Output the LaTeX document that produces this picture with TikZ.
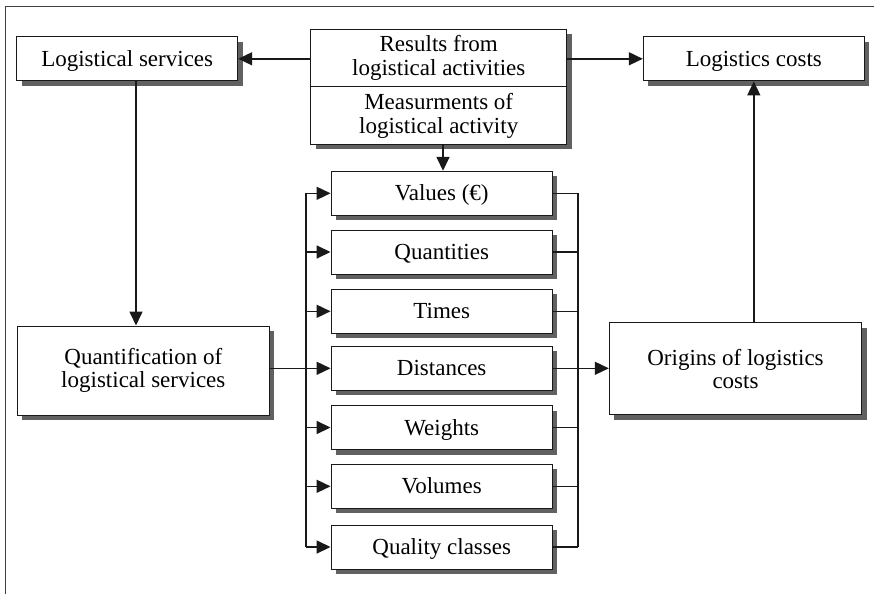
\documentclass[tikz,border=0pt]{standalone}
\usepackage{fontspec}
\setmainfont{Liberation Serif}
\usetikzlibrary{arrows.meta,shadows}
\begin{document}
\begin{tikzpicture}[x=1pt,y=-1pt,
  box/.style={draw=black!90, line width=1pt, fill=white, align=center, inner sep=0pt,
    font=\fontsize{23}{23.5}\selectfont,
    drop shadow={opacity=1, fill=black!62, shadow xshift=5pt, shadow yshift=-5pt}},
  onebox/.style={box, text height=15.2pt, text depth=0pt},
  lbl/.style={align=center, inner sep=0pt, font=\fontsize{23}{23.5}\selectfont},
  conn/.style={line width=1.6pt, draw=black!90},
  arr/.style={conn, -{Triangle[length=14pt,width=13pt]}},
  frame/.style={line width=1.2pt, draw=black!75}
]
\useasboundingbox (0,0) rectangle (874,594);
% frame
\coordinate (fa) at (5.7,594);
\coordinate (fb) at (5.7,6.7);
\coordinate (fc) at (874,6.7);
\draw[frame] (fa) -- (fb) -- (fc);

% top row
\node[onebox, minimum width=221pt, minimum height=44.3pt] (logsvc) at (127.2,58.8) {Logistical services};
\node[onebox, minimum width=221pt, minimum height=44.3pt] (logcost) at (753.8,58.8) {Logistics costs};
\node[box, minimum width=256pt, minimum height=114.7pt] (res) at (438.7,86.7) {};
\node[lbl] (res1) at (438.7,58) {Results from\\logistical activities};
\node[lbl] (res2) at (438.7,116) {Measurments of\\logistical activity};
\draw[line width=1pt, draw=black!90] (res.west |- 0,86.7) -- (res.east |- 0,86.7);

% measures column
\foreach \n/\t/\y in {val/{Values (€)}/193.3, qua/Quantities/252, tim/Times/311.3,
    dis/Distances/368.3, wei/Weights/427.5, vol/Volumes/486.3, qcl/Quality classes/547}{
  \node[onebox, minimum width=221.3pt, minimum height=44pt] (\n) at (441.7,\y) {\t};
}

\node[box, minimum width=252pt, minimum height=89pt] (quant) at (143.3,370.5) {Quantification of\\logistical services};
\node[box, minimum width=252.4pt, minimum height=92.3pt] (orig) at (735.5,368.8) {Origins of logistics\\costs};

% connectors
\draw[arr] (res.west |- logsvc) -- (logsvc.east);
\draw[arr] (res.east |- logcost) -- (logcost.west);
\draw[arr] (res.south -| 443,0) -- (val.north -| 443,0);
\draw[arr] (logsvc.south -| 136,0) -- (quant.north -| 136,0);
\draw[arr] (orig.north -| logcost) -- (logcost.south);

% left bus
\coordinate (lbt) at (306,193.3);
\coordinate (lbb) at (306,547);
\draw[conn] (lbt) -- (lbb);
\draw[conn] (quant.east |- dis) -- (lbb |- dis);
\foreach \n in {val,qua,tim,dis,wei,vol,qcl}{
  \draw[arr] (lbt |- \n) -- (\n.west);
}
% right bus
\coordinate (rbt) at (577.7,193.3);
\coordinate (rbb) at (577.7,547);
\draw[conn] (rbt) -- (rbb);
\foreach \n in {val,qua,tim,wei,vol,qcl}{
  \draw[conn] (\n.east) -- (rbt |- \n);
}
\draw[arr] (dis.east) -- (orig.west |- dis);
\end{tikzpicture}
\end{document}
